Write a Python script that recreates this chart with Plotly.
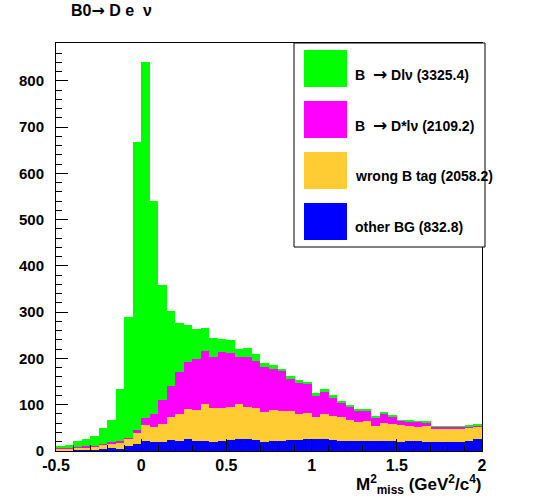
import numpy as np
import plotly.graph_objects as go

# Histogram binning: 50 bins from -0.5 to 2.0 GeV^2/c^4
bin_lo, bin_hi, n_bins = -0.5, 2.0, 50

# Per-component bin contents (stacked bottom -> top)
other_bg = [2, 2, 3, 3, 3, 4, 6, 5, 11, 15,
            22, 20, 19, 23, 22, 26, 22, 21, 20, 22,
            24, 25, 27, 24, 20, 21, 22, 24, 24, 26,
            26, 25, 24, 22, 22, 22, 22, 21, 22, 22,
            20, 22, 22, 20, 20, 20, 20, 20, 22, 25]
wrong_tag = [3, 4, 4, 5, 6, 9, 10, 13, 15, 24,
             34, 32, 39, 50, 59, 64, 66, 80, 72, 71,
             71, 76, 68, 69, 65, 67, 64, 62, 55, 57,
             48, 55, 52, 51, 45, 40, 42, 34, 39, 36,
             36, 32, 30, 34, 27, 28, 29, 29, 29, 29]
dstar_lnu = [1, 1, 2, 2, 2, 2, 4, 3, 3, 6,
             16, 29, 52, 68, 90, 103, 110, 115, 111, 121,
             117, 102, 108, 102, 97, 90, 86, 70, 70, 61,
             47, 49, 40, 30, 30, 26, 23, 18, 20, 17,
             9, 10, 11, 8, 6, 5, 4, 4, 3, 2]
d_lnu = [5, 7, 13, 15, 21, 34, 48, 112, 260, 623,
         768, 459, 249, 162, 106, 79, 65, 49, 42, 29,
         29, 18, 20, 15, 9, 7, 5, 6, 4, 5,
         4, 4, 4, 5, 2, 2, 2, 2, 2, 2,
         2, 1, 1, 2, 1, 1, 1, 1, 1, 1]

ARROW = '<span style="font-family:DejaVu Sans;font-size:17px">\u2192</span>'
legend_labels = ["B  " + ARROW + " Dl\u03bd (3325.4)", "B  " + ARROW + " D*l\u03bd (2109.2)",
                 "wrong B tag (2058.2)", "other BG (832.8)"]
colors = ["#00ff00", "#ff00ff", "#ffcc33", "#0000ff"]

x_tick_vals = [-0.5, 0, 0.5, 1, 1.5, 2]
x_tick_text = ["-0.5", "0", "0.5", "1", "1.5", "2"]
y_tick_vals = [0, 100, 200, 300, 400, 500, 600, 700, 800]

bw = (bin_hi - bin_lo) / n_bins
centers = np.linspace(bin_lo + bw / 2, bin_hi - bw / 2, n_bins)

FONT = "Liberation Sans, Arial, Helvetica, sans-serif"

fig = go.Figure()
for vals, col in [(other_bg, colors[3]), (wrong_tag, colors[2]),
                  (dstar_lnu, colors[1]), (d_lnu, colors[0])]:
    fig.add_trace(go.Bar(x=centers, y=vals, width=bw, marker_color=col,
                         marker_line_width=0, showlegend=False, hoverinfo="skip"))

W, H = 538, 500
# frame in page pixels
L, R, T, B = 56, 482, 43, 451

def px(x):
    return (x - L) / (R - L)

def py(y):
    return (B - y) / (B - T)

shapes = []
annotations = []
# legend box
shapes.append(dict(type="rect", xref="paper", yref="paper",
                   x0=px(294), x1=px(485), y0=py(247), y1=py(43),
                   fillcolor="white", line=dict(color="black", width=1), layer="above"))
sw_tops = [50, 101, 152, 203]
for lab, col, st in zip(legend_labels, colors, sw_tops):
    shapes.append(dict(type="rect", xref="paper", yref="paper",
                       x0=px(304), x1=px(347), y0=py(st + 37), y1=py(st),
                       fillcolor=col, line=dict(width=0), layer="above"))
    annotations.append(dict(text="<b>" + lab + "</b>", xref="paper", yref="paper",
                            x=px(353), y=py(st + 24), xanchor="left", yanchor="middle",
                            showarrow=False, font=dict(family=FONT, size=14, color="black")))

annotations.append(dict(text='<b>B0<span style="font-family:DejaVu Sans">\u2192</span> D e  \u03bd</b>',
                        xref="paper", yref="paper",
                        x=px(69), y=py(10), xanchor="left", yanchor="middle",
                        showarrow=False, font=dict(family=FONT, size=16, color="black")))
annotations.append(dict(text="<b>M<sup>2</sup><sub>miss</sub> (GeV<sup>2</sup>/c<sup>4</sup>)</b>",
                        xref="paper", yref="paper", x=px(483), y=py(485),
                        xanchor="right", yanchor="middle", showarrow=False,
                        font=dict(family=FONT, size=17, color="black")))

fig.update_layout(
    width=W, height=H, autosize=False,
    margin=dict(l=L, r=W - R, t=T, b=H - B, pad=0),
    paper_bgcolor="white", plot_bgcolor="white",
    barmode="stack", bargap=0,
    shapes=shapes, annotations=annotations,
    font=dict(family=FONT, color="black"),
)
fig.update_xaxes(range=[bin_lo, bin_hi], tickmode="array", tickvals=x_tick_vals,
                 ticktext=x_tick_text, ticks="inside", ticklen=12, tickcolor="black",
                 tickwidth=1, showgrid=False, zeroline=False,
                 showline=True, linecolor="black", linewidth=1, mirror=True,
                 tickfont=dict(family=FONT, size=16, color="black", weight="bold"),
                 minor=dict(tickmode="linear", tick0=-0.5, dtick=0.1, ticks="inside",
                            ticklen=6, tickcolor="black", showgrid=False))
fig.update_yaxes(range=[0, 882], tickmode="array", tickvals=y_tick_vals,
                 ticks="inside", ticklen=12, tickcolor="black", tickwidth=1,
                 showgrid=False, zeroline=False,
                 showline=True, linecolor="black", linewidth=1, mirror=True,
                 tickfont=dict(family=FONT, size=15, color="black", weight="bold"),
                 ticklabelstandoff=8,
                 minor=dict(tickmode="linear", tick0=0, dtick=20, ticks="inside",
                            ticklen=6, tickcolor="black", showgrid=False))

fig.write_html("out.html", config={"displayModeBar": False},
               post_script="document.body.style.margin='0';document.body.style.padding='0';")
